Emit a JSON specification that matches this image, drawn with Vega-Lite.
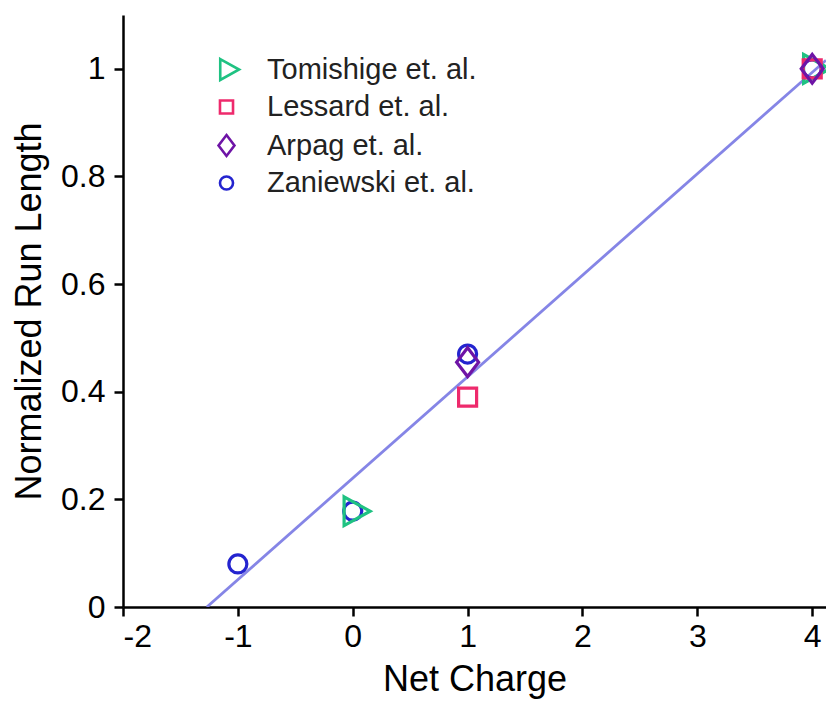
{
  "$schema": "https://vega.github.io/schema/vega-lite/v6.json",
  "autosize": {"type": "none"},
  "width": 703,
  "height": 592,
  "padding": {"left": 123, "top": 15, "right": 0, "bottom": 102},
  "background": "white",
  "config": {
    "view": {"stroke": null},
    "font": "Liberation Sans",
    "axis": {
      "grid": false,
      "domainColor": "black",
      "domainWidth": 2.5,
      "tickColor": "black",
      "tickWidth": 2.5,
      "tickSize": 9,
      "labelFontSize": 32,
      "labelColor": "black",
      "titleFontSize": 36,
      "titleFontWeight": "normal",
      "titleColor": "black",
      "labelExpr": "'' + datum.value"
    }
  },
  "datasets": {
    "points": [
      {"study": "Zaniewski et. al.", "charge": -1, "run": 0.08},
      {"study": "Zaniewski et. al.", "charge": 0, "run": 0.178},
      {"study": "Zaniewski et. al.", "charge": 1, "run": 0.47},
      {"study": "Zaniewski et. al.", "charge": 4, "run": 1.0},
      {"study": "Tomishige et. al.", "charge": 0, "run": 0.178},
      {"study": "Tomishige et. al.", "charge": 4, "run": 1.0},
      {"study": "Lessard et. al.", "charge": 1, "run": 0.39},
      {"study": "Lessard et. al.", "charge": 4, "run": 1.0},
      {"study": "Arpag et. al.", "charge": 1, "run": 0.455},
      {"study": "Arpag et. al.", "charge": 4, "run": 1.0}
    ],
    "fit": [
      {"charge": -1.27, "run": 0},
      {"charge": 4.12, "run": 1.016}
    ]
  },
  "layer": [
    {
      "data": {"name": "fit"},
      "mark": {"type": "line", "color": "#8585e6", "strokeWidth": 2.8, "clip": true},
      "encoding": {
        "x": {"field": "charge", "type": "quantitative"},
        "y": {"field": "run", "type": "quantitative"}
      }
    },
    {
      "data": {"name": "points"},
      "mark": {"type": "point", "filled": false, "strokeWidth": 3.2, "opacity": 1, "size": 324},
      "encoding": {
        "x": {
          "field": "charge", "type": "quantitative",
          "scale": {"domain": [-2, 4.12], "nice": false, "zero": false},
          "axis": {"values": [-2, -1, 0, 1, 2, 3, 4], "title": "Net Charge", "titlePadding": 10, "labelPadding": 5}
        },
        "y": {
          "field": "run", "type": "quantitative",
          "scale": {"domain": [0, 1.1], "nice": false},
          "axis": {"values": [0, 0.2, 0.4, 0.6, 0.8, 1], "title": "Normalized Run Length", "titlePadding": 12, "labelPadding": 9}
        },
        "color": {
          "field": "study", "type": "nominal",
          "scale": {
            "domain": ["Tomishige et. al.", "Lessard et. al.", "Arpag et. al.", "Zaniewski et. al."],
            "range": ["#1fc282", "#ee2a6c", "#6e14a6", "#2424cf"]
          },
          "legend": {
            "title": null,
            "orient": "none",
            "legendX": 89,
            "legendY": 40,
            "labelFontSize": 29,
            "labelColor": "#222222",
            "labelLimit": 0,
            "symbolStrokeWidth": 2.6,
            "symbolSize": 170,
            "rowPadding": 6.5,
            "labelOffset": 26
          }
        },
        "shape": {
          "field": "study", "type": "nominal",
          "scale": {
            "domain": ["Tomishige et. al.", "Lessard et. al.", "Arpag et. al.", "Zaniewski et. al."],
            "range": ["M-0.96,-1.6L1.93,0L-0.96,1.6Z", "square", "M0,-1.6L1.22,0L0,1.6L-1.22,0Z", "circle"]
          },
          "legend": null
        }
      }
    }
  ]
}
